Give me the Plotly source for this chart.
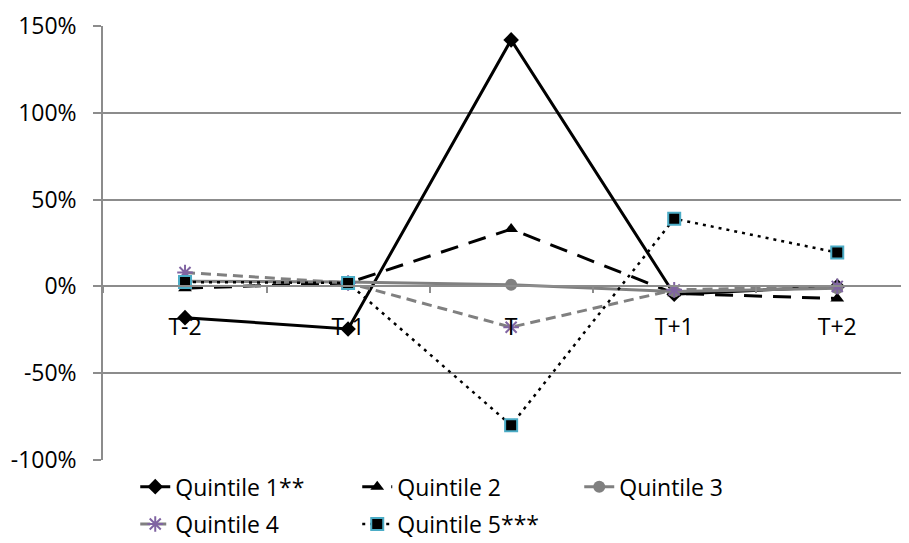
import plotly.graph_objects as go

periods = ["T-2", "T-1", "T", "T+1", "T+2"]
q1 = [-0.18, -0.245, 1.42, -0.045, 0.0]
q2 = [-0.01, 0.02, 0.33, -0.04, -0.07]
q3 = [0.03, 0.025, 0.01, -0.03, -0.01]
q4 = [0.08, 0.02, -0.235, -0.02, 0.0]
q5 = [0.025, 0.02, -0.80, 0.39, 0.195]
names = ["Quintile 1**", "Quintile 2", "Quintile 3", "Quintile 4", "Quintile 5***"]
y_ticks = [-1.0, -0.5, 0.0, 0.5, 1.0, 1.5]
y_labels = ["-100%", "-50%", "0%", "50%", "100%", "150%"]

FONT = "Open Sans"
FS = 23
GRID = "#8c8c8c"

fig = go.Figure()
fig.add_trace(go.Scatter(x=periods, y=q1, name=names[0], mode="lines+markers",
                         line=dict(color="black", width=3),
                         marker=dict(symbol="diamond", size=12, color="black"),
                         legend="legend"))
fig.add_trace(go.Scatter(x=periods, y=q2, name=names[1], mode="lines+markers",
                         line=dict(color="black", width=3, dash="18px,11px"),
                         marker=dict(symbol="triangle-up", size=12, color="black"),
                         legend="legend"))
fig.add_trace(go.Scatter(x=periods, y=q3, name=names[2], mode="lines+markers",
                         line=dict(color="#808080", width=3),
                         marker=dict(symbol="circle", size=12, color="#808080"),
                         legend="legend"))
fig.add_trace(go.Scatter(x=periods, y=q4, name=names[3], mode="lines+markers",
                         line=dict(color="#808080", width=3, dash="10px,6px"),
                         marker=dict(symbol="asterisk-open", size=13, color="#8064A2",
                                     line=dict(color="#8064A2", width=2)),
                         legend="legend2"))
fig.add_trace(go.Scatter(x=periods, y=q5, name=names[4], mode="lines+markers",
                         line=dict(color="black", width=2.5, dash="3px,5px"),
                         marker=dict(symbol="square", size=12, color="black",
                                     line=dict(color="#4BACC6", width=2)),
                         legend="legend2"))

# The page body has an 8px default margin, so the figure is sized/offset to fit.
fig.update_layout(
    width=901, height=535,
    margin=dict(l=95, r=0, t=18, b=83, autoexpand=False),
    paper_bgcolor="white", plot_bgcolor="white",
    font=dict(family=FONT, size=FS, color="black"),
    showlegend=True,
    legend=dict(orientation="h", x=0.04, xanchor="left", y=-0.012, yanchor="top",
                entrywidth=177, entrywidthmode="pixels",
                font=dict(family=FONT, size=FS), bgcolor="rgba(0,0,0,0)"),
    legend2=dict(orientation="h", x=0.04, xanchor="left", y=-0.098, yanchor="top",
                 entrywidth=177, entrywidthmode="pixels",
                 font=dict(family=FONT, size=FS), bgcolor="rgba(0,0,0,0)"),
)
fig.update_xaxes(type="category", range=[-0.503, 4.44],
                 anchor="free", position=0.4,
                 showline=True, linecolor=GRID, linewidth=1.5,
                 showgrid=False, ticks="outside", tickson="boundaries",
                 ticklen=6, tickcolor=GRID, tickwidth=1.5,
                 ticklabelstandoff=20,
                 tickfont=dict(family=FONT, size=FS, color="black"))
fig.update_yaxes(range=[-1.0, 1.5], tickvals=y_ticks, ticktext=y_labels,
                 showgrid=True, gridcolor=GRID, gridwidth=1.5,
                 zeroline=False,
                 showline=True, linecolor=GRID, linewidth=1.5,
                 ticks="outside", ticklen=8, tickcolor=GRID, tickwidth=1.5,
                 ticklabelstandoff=12,
                 tickfont=dict(family=FONT, size=FS, color="black"))

fig.write_html("out.html")
